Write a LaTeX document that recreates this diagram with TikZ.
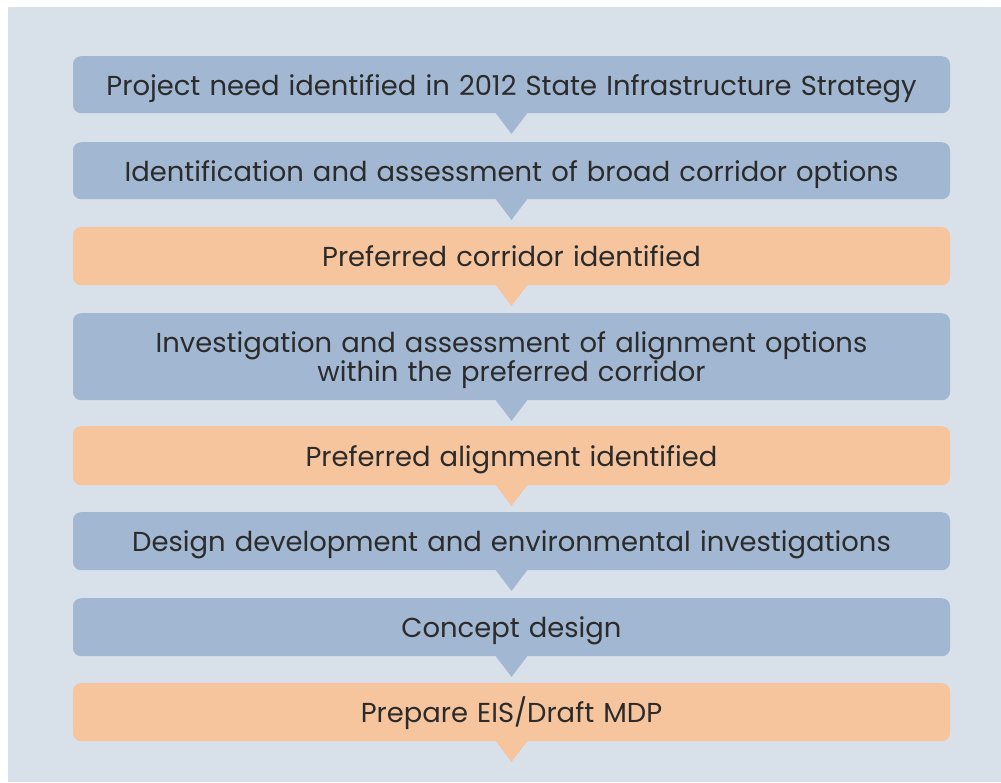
\documentclass[tikz,border=0pt]{standalone}
\usepackage{fontspec}
\setmainfont{Poppins}
\definecolor{bgc}{HTML}{D8E0E9}
\definecolor{bluebox}{HTML}{A2B7D2}
\definecolor{orangebox}{HTML}{F6C59E}
\definecolor{txt}{HTML}{2B2B2B}
\tikzset{
  stage/.style={rounded corners=8pt, minimum width=877pt, text width=870pt, align=center, inner sep=0pt,
    font=\fontsize{27.4}{33}\selectfont, text=txt, anchor=north},
  oneline/.style={text height=25pt, text depth=4pt},
  bstage/.style={stage, fill=bluebox},
  ostage/.style={stage, fill=orangebox},
}
\newcommand{\pointer}[2]{\fill[#2] (#1.south) ++(-16pt,0.5pt) -- ++(32pt,0) -- ++(-16pt,-21pt) -- cycle;}
\begin{document}
\begin{tikzpicture}[x=1pt,y=-1pt]
\useasboundingbox (0,0) rectangle (1001,782);
\fill[white] (0,0) rectangle (1001,782);
\fill[bgc] (8,7) rectangle (1001,782);
\node[bstage, oneline, minimum height=57pt] (b1) at (511.5,56) {Project need identified in 2012 State Infrastructure Strategy};
\node[bstage, oneline, minimum height=57pt] (b2) at (511.5,142) {Identification and assessment of broad corridor options};
\node[ostage, oneline, minimum height=58pt] (b3) at (511.5,227) {Preferred corridor identified};
\node[bstage, minimum height=87pt] (b4) at (511.5,313) {\rule{0pt}{27pt}Investigation and assessment of alignment options\\[-4pt] within the preferred corridor};
\node[ostage, oneline, minimum height=59pt] (b5) at (511.5,426) {Preferred alignment identified};
\node[bstage, oneline, minimum height=58pt] (b6) at (511.5,512) {Design development and environmental investigations};
\node[bstage, oneline, minimum height=58pt] (b7) at (511.5,598) {Concept design};
\node[ostage, oneline, minimum height=58pt] (b8) at (511.5,683) {Prepare EIS/Draft MDP};
\pointer{b1}{bluebox}
\pointer{b2}{bluebox}
\pointer{b3}{orangebox}
\pointer{b4}{bluebox}
\pointer{b5}{orangebox}
\pointer{b6}{bluebox}
\pointer{b7}{bluebox}
\pointer{b8}{orangebox}
\end{tikzpicture}
\end{document}
